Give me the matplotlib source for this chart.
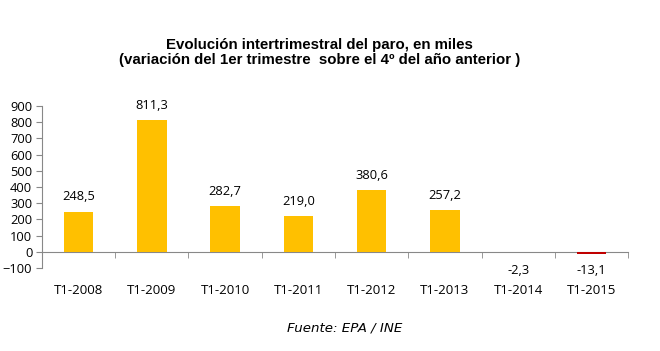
import matplotlib
matplotlib.use("Agg")
import matplotlib.pyplot as plt
import numpy as np

periods = ["T1-2008", "T1-2009", "T1-2010", "T1-2011", "T1-2012", "T1-2013", "T1-2014", "T1-2015"]
values = [248.5, 811.3, 282.7, 219.0, 380.6, 257.2, -2.3, -13.1]
labels = ["248,5", "811,3", "282,7", "219,0", "380,6", "257,2", "-2,3", "-13,1"]

plt.rcParams["font.family"] = ["Open Sans", "DejaVu Sans"]

fig = plt.figure(figsize=(6.6, 3.51), dpi=100)
ax = fig.add_axes([0.0636, 0.2365, 0.888, 0.4615])

x = np.arange(len(periods))
cols = ["#FFC000" if v >= 0 else "#C00000" for v in values]
ax.bar(x, values, width=0.4, color=cols, zorder=4)

for xi, v, t in zip(x, values, labels):
    if v >= 0:
        ax.annotate(t, (xi, v), xytext=(0, 6), textcoords="offset points",
                    ha="center", va="bottom", fontsize=9.3)
    else:
        ax.annotate(t, (xi, 0), xytext=(0, -9), textcoords="offset points",
                    ha="center", va="top", fontsize=9.3)

ax.set_xlim(-0.5, len(periods) - 0.5)
ax.set_ylim(-100, 900)
ax.set_yticks(range(-100, 1000, 100))
ax.tick_params(axis="y", labelsize=9.3, length=4, color="#888888", pad=3)

ax.spines["top"].set_visible(False)
ax.spines["right"].set_visible(False)
ax.spines["left"].set_color("#888888")
ax.spines["bottom"].set_position(("data", 0))
ax.spines["bottom"].set_color("#888888")
ax.spines["bottom"].set_zorder(1)

ax.set_xticks(x)
ax.set_xticklabels(periods)
ax.set_xticks(np.arange(len(periods) + 1) - 0.5, minor=True)
ax.tick_params(axis="x", which="major", length=0, pad=23, labelsize=9.5)
ax.tick_params(axis="x", which="minor", length=4, color="#888888")

fig.text(0.484, 0.85, "Evolución intertrimestral del paro, en miles\n(variación del 1er trimestre  sobre el 4º del año anterior )",
         ha="center", va="center", fontsize=10.8, fontweight="bold",
         family=["Liberation Sans", "DejaVu Sans"], linespacing=1.05)
fig.text(0.523, 0.065, "Fuente: EPA / INE", ha="center", va="center",
         fontsize=9.6, style="italic", family=["DejaVu Sans"])

fig.savefig("out.png", dpi=100)
